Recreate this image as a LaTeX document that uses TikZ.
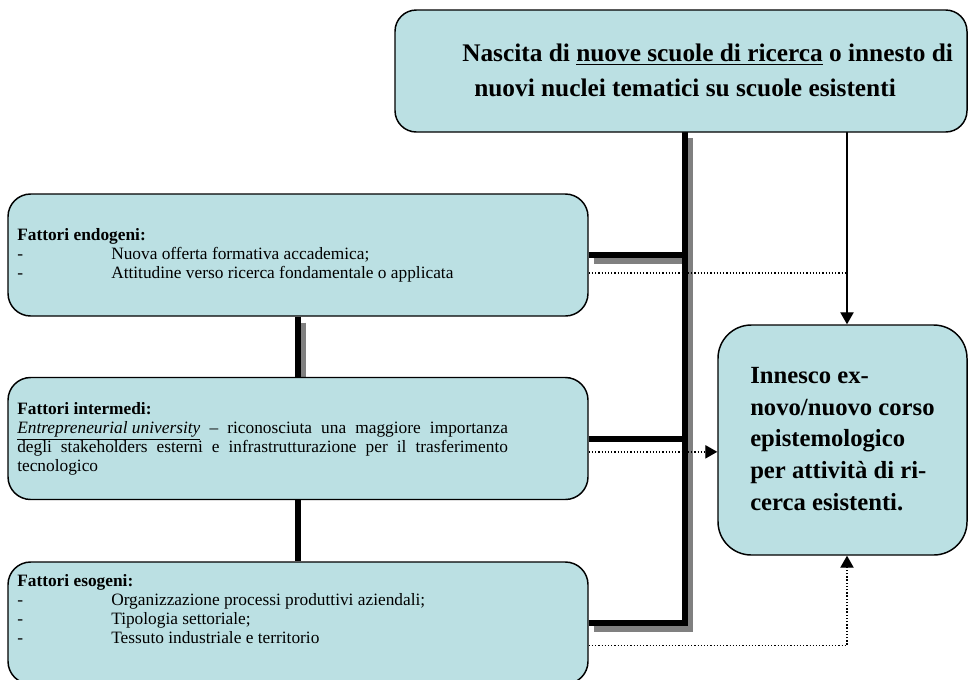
\documentclass[tikz,border=0pt]{standalone}
\usepackage{fontspec}
\setmainfont{Liberation Serif}
\usetikzlibrary{arrows.meta,backgrounds}

\definecolor{boxblue}{RGB}{187,224,227}
\definecolor{shadowgray}{RGB}{128,128,128}

\tikzset{
  factorbox/.style={draw, line width=1.1pt, fill=boxblue, rounded corners=17pt,
    minimum width=435pt, minimum height=91.5pt},
  smalltext/.style={anchor=west, align=left, inner sep=0pt,
    font=\fontsize{13}{14.2}\selectfont},
  bigtext/.style={anchor=west, align=left, inner sep=0pt,
    font=\fontsize{19}{26}\selectfont\bfseries},
  bar/.style={line width=4.5pt},
  barshadow/.style={line width=4.5pt, shadowgray,
    transform canvas={shift={(3.75pt,-4.5pt)}}},
  dotline/.style={line width=1pt, dash pattern=on 1pt off 1.4pt},
  headarrow/.style={-{Triangle[length=9pt,width=10pt]}}
}

\newcommand{\dashitem}[1]{\makebox[70.5pt][l]{-}#1}

\begin{document}
\begin{tikzpicture}[x=0.75pt,y=-0.75pt]
    % Fix the page size
    \useasboundingbox (0,0) rectangle (969,679);

    % Draw the boxes
    \node[factorbox, rounded corners=16pt, minimum width=429pt] (nascita) at (681,71) {};
    \node[factorbox] (endo) at (298,255) {};
    \node[factorbox] (inter) at (298,438.5) {};
    \node[factorbox] (eso) at (298,623) {};
    \node[factorbox, rounded corners=25pt, minimum width=186.75pt,
      minimum height=172.5pt] (innesco) at (842.5,440) {};

    % Texts of the boxes
    \node[bigtext] (nascitatxt) at (462,70.5)
      {Nascita di \underline{nuove scuole di ricerca} o innesto di\\\hspace*{9pt}nuovi nuclei tematici su scuole esistenti};
    \node[bigtext, font=\fontsize{18.5}{23.8}\selectfont\bfseries] (innescotxt) at (750,439)
      {Innesco ex-\\novo/nuovo corso\\epistemologico\\per attività di ri-\\cerca esistenti.};
    \node[smalltext] (endotxt) at (17,255.5)
      {\textbf{Fattori endogeni:}\\\dashitem{Nuova offerta formativa accademica;}\\\dashitem{Attitudine verso ricerca fondamentale o applicata}};
    \node[smalltext, text width=368pt, align=justify] (intertxt) at (17,438.5)
      {\textbf{Fattori intermedi:}\\\underline{\textit{Entrepreneurial university}} – riconosciuta una maggiore importanza\linebreak degli stakeholders esterni e infrastrutturazione per il trasferimento\linebreak tecnologico};
    \node[smalltext] (esotxt) at (17,609)
      {\textbf{Fattori esogeni:}\\\dashitem{Organizzazione processi produttivi aziendali;}\\\dashitem{Tipologia settoriale;}\\\dashitem{Tessuto industriale e territorio}};

    % Connectors behind the boxes
    \begin{scope}[on background layer]
        \fill[white] (0,0) rectangle (969,679);
        \coordinate (spine) at (685,132);
        \coordinate (drop) at (847,132);

        % Grey shadows of the thick bars
        \draw[barshadow] (eso.east) -| (spine);
        \draw[barshadow] (endo.east) -- (endo.east -| spine);
        \draw[barshadow] (endo.south) -- (inter.north);

        % Thick bars
        \draw[bar] (eso.east) -| (spine);
        \draw[bar] (endo.east) -- (endo.east -| spine);
        \draw[bar] (inter.east) -- (inter.east -| spine);
        \draw[bar] (endo.south) -- (inter.north);
        \draw[bar] (inter.south) -- (eso.north);

        % Thin arrow and dotted links
        \draw[headarrow, line width=1pt] (drop) -- (drop |- innesco.north);
        \draw[dotline] ([yshift=-13.5pt]endo.east) coordinate (d1) -- (d1 -| drop);
        \draw[dotline, headarrow] ([yshift=-10pt]inter.east) coordinate (d2) -- (d2 -| innesco.west);
        \draw[dotline, headarrow] ([yshift=-17pt]eso.east) -| (drop |- innesco.south);
    \end{scope}
\end{tikzpicture}
\end{document}
